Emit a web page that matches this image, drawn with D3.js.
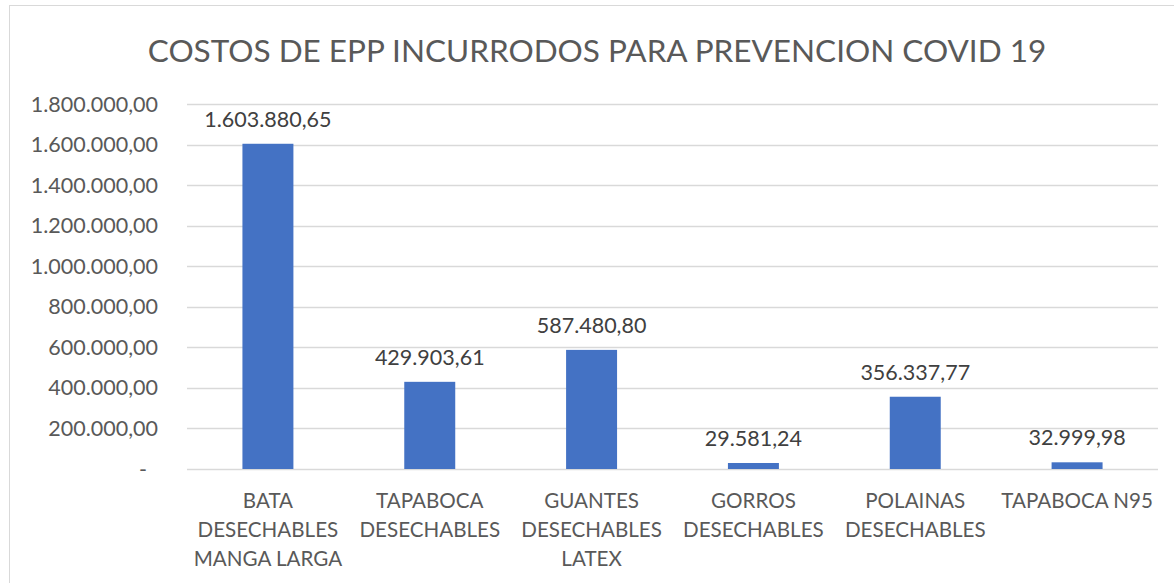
<!DOCTYPE html>
<html>
<head>
<meta charset="utf-8">
<script src="https://cdn.jsdelivr.net/npm/d3@7"></script>
<style>
  body { margin: 0; background: #fff; }
  text { font-family: Lato, "Open Sans", sans-serif; }
</style>
</head>
<body>
<script>
// chart data
var categories = ["BATA DESECHABLES MANGA LARGA", "TAPABOCA DESECHABLES", "GUANTES DESECHABLES LATEX",
                  "GORROS DESECHABLES", "POLAINAS DESECHABLES", "TAPABOCA N95"];
var costs = [1603880.65, 429903.61, 587480.80, 29581.24, 356337.77, 32999.98];
var yTicks = [0, 200000, 400000, 600000, 800000, 1000000, 1200000, 1400000, 1600000, 1800000];
var title = "COSTOS DE EPP INCURRODOS PARA PREVENCION COVID 19";

var w = 1174;
var h = 583;
var plotLeft = 187, plotRight = 1158, plotTop = 104, plotBottom = 469;

// spanish number format: 1.234.567,89
var esLocale = d3.formatLocale({decimal: ",", thousands: ".", grouping: [3], currency: ["", ""]});
var fmt = esLocale.format(",.2f");

var svg = d3.select("body").append("svg")
    .attr("width", w)
    .attr("height", h);

svg.append("rect")
   .attr("width", w).attr("height", h)
   .attr("fill", "#fff");

// chart frame
svg.append("rect")
   .attr("x", 9.5).attr("y", 5.5)
   .attr("width", 1200).attr("height", 620)
   .attr("fill", "none")
   .attr("stroke", "#d9d9d9");

var x = d3.scaleBand().domain(categories).range([plotLeft, plotRight]);
var y = d3.scaleLinear().domain([0, 1800000]).range([plotBottom, plotTop]);

// gridlines
svg.append("g").selectAll("line")
   .data(yTicks)
   .enter().append("line")
   .attr("x1", plotLeft).attr("x2", plotRight)
   .attr("y1", function(d) { return Math.round(y(d)) + 0.5; })
   .attr("y2", function(d) { return Math.round(y(d)) + 0.5; })
   .attr("stroke", "#d9d9d9")
   .attr("stroke-width", 1.3);

// y tick labels
svg.append("g").selectAll("text")
   .data(yTicks)
   .enter().append("text")
   .attr("x", function(d) { return d == 0 ? 147 : 158; })
   .attr("y", function(d) { return y(d) + 7.5; })
   .attr("text-anchor", "end")
   .style("font-size", "21.5px")
   .attr("fill", "#595959")
   .text(function(d) { return d == 0 ? "-" : fmt(d); });

// bars
var barW = x.bandwidth() * 0.315;
svg.append("g").selectAll("rect")
   .data(costs)
   .enter().append("rect")
   .attr("x", function(d, i) { return x(categories[i]) + (x.bandwidth() - barW) / 2; })
   .attr("y", function(d) { return y(d); })
   .attr("width", barW)
   .attr("height", function(d) { return plotBottom - y(d); })
   .attr("fill", "#4472c4");

// value labels
svg.append("g").selectAll("text")
   .data(costs)
   .enter().append("text")
   .attr("x", function(d, i) { return x(categories[i]) + x.bandwidth() / 2; })
   .attr("y", function(d) { return y(d) - 17; })
   .attr("text-anchor", "middle")
   .style("font-size", "21.5px")
   .attr("fill", "#404040")
   .text(function(d) { return fmt(d); });

// category labels, wrapped like excel does
var catLabels = svg.append("g").selectAll("text")
   .data(categories)
   .enter().append("text")
   .attr("x", function(d) { return x(d) + x.bandwidth() / 2; })
   .attr("y", 508)
   .attr("text-anchor", "middle")
   .style("font-size", "20.6px")
   .attr("fill", "#595959");

catLabels.each(function(d) {
  var el = d3.select(this);
  var words = d.split(" ");
  var lines = [];
  var line = "";
  var probe = el.append("tspan");
  words.forEach(function(word) {
    var test = line ? line + " " + word : word;
    probe.text(test);
    if (line && probe.node().getComputedTextLength() > 158) {
      lines.push(line);
      line = word;
    } else {
      line = test;
    }
  });
  lines.push(line);
  probe.remove();
  lines.forEach(function(l, i) {
    el.append("tspan")
      .attr("x", el.attr("x"))
      .attr("dy", i == 0 ? 0 : 29)
      .text(l);
  });
});

// title
svg.append("text")
   .attr("x", 597)
   .attr("y", 62)
   .attr("text-anchor", "middle")
   .style("font-size", "31.5px")
   .attr("fill", "#595959")
   .text(title);
</script>
</body>
</html>
